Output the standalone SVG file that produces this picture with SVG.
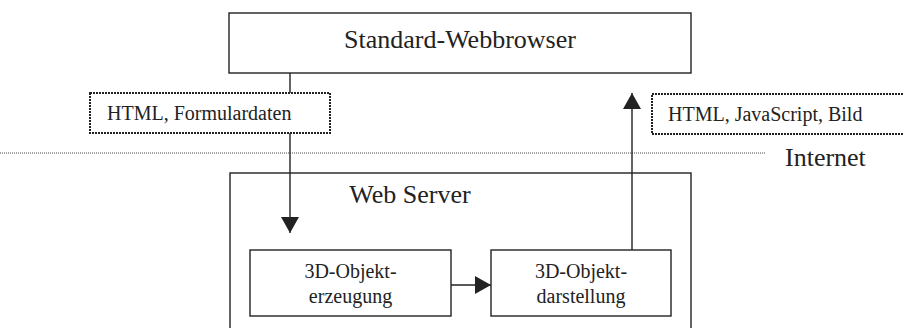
<svg xmlns="http://www.w3.org/2000/svg" width="903" height="328" viewBox="0 0 903 328">
<style>
.box{fill:#fff;stroke:#222;stroke-width:1.4}
.lbl{fill:#fff;stroke:#222;stroke-width:2;stroke-dasharray:2 1}
.t{fill:#222}
.line{stroke:#222;stroke-width:1.4;fill:none}
</style>
<defs>
<marker id="ah" viewBox="0 0 16 18" refX="16" refY="9" markerWidth="16" markerHeight="18" markerUnits="userSpaceOnUse" orient="auto">
<path d="M0,0 L16,9 L0,18 Z" fill="#222"/>
</marker>
</defs>
<g font-family="'Liberation Serif', 'Times New Roman', 'DejaVu Serif', serif">
<g id="internet-line">
<line x1="0" y1="153" x2="765" y2="153" stroke="#444" stroke-width="1" stroke-dasharray="1 1"/>
<text class="t" x="785" y="166" font-size="26">Internet</text>
</g>
<g id="server">
<rect class="box" x="230" y="173" width="461" height="160"/>
<text class="t" x="410" y="203" font-size="26" text-anchor="middle">Web Server</text>
</g>
<g id="connectors">
<line class="line" x1="290" y1="73" x2="290" y2="233" marker-end="url(#ah)"/>
<line class="line" x1="632" y1="253" x2="632" y2="93" marker-end="url(#ah)"/>
<line class="line" x1="451" y1="285" x2="491" y2="285" marker-end="url(#ah)"/>
</g>
<g id="browser">
<rect class="box" x="229" y="13" width="462" height="60"/>
<text class="t" x="460" y="48" font-size="26" text-anchor="middle">Standard-Webbrowser</text>
</g>
<g id="label1">
<rect class="lbl" x="90" y="93" width="240" height="40"/>
<text class="t" x="107" y="120" font-size="20">HTML, Formulardaten</text>
</g>
<g id="label2">
<rect class="lbl" x="652" y="94" width="260" height="40"/>
<text class="t" x="668" y="121" font-size="20">HTML, JavaScript, Bild</text>
</g>
<g id="erzeugung">
<rect class="box" x="250" y="250" width="201" height="66"/>
<text class="t" x="350.5" y="278" font-size="20" text-anchor="middle">3D-Objekt-</text>
<text class="t" x="350.5" y="303" font-size="20" text-anchor="middle">erzeugung</text>
</g>
<g id="darstellung">
<rect class="box" x="491" y="250" width="180" height="66"/>
<text class="t" x="581" y="278" font-size="20" text-anchor="middle">3D-Objekt-</text>
<text class="t" x="581" y="303" font-size="20" text-anchor="middle">darstellung</text>
</g>
</g>
</svg>
